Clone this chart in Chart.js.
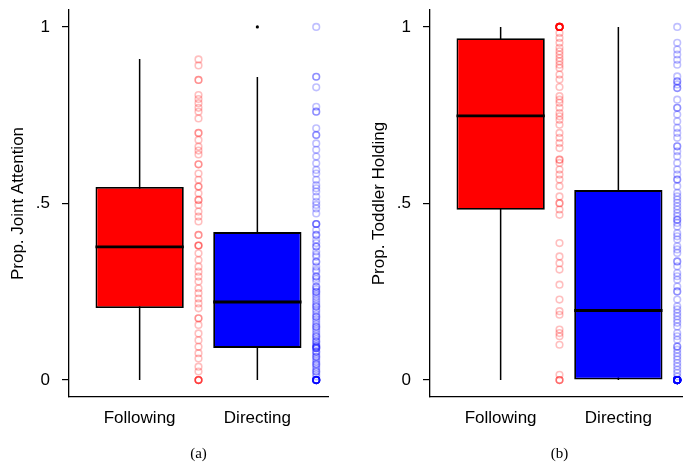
<!DOCTYPE html>
<html lang="en">
<head>
  <meta charset="UTF-8">
  <title>Joint attention and toddler holding</title>
  <script src="https://cdn.jsdelivr.net/npm/chart.js"></script>
  <style>
    html, body { margin: 0; padding: 0; background: #fff; }
    body { width: 683px; height: 464px; overflow: hidden; position: relative; }
    .panel { position: absolute; top: 0; width: 340px; height: 464px; }
    #panelA { left: 0; }
    #panelB { left: 361px; }
  </style>
</head>
<body>
  <div class="panel" id="panelA"><canvas id="chartA" width="340" height="464"></canvas></div>
  <div class="panel" id="panelB"><canvas id="chartB" width="340" height="464"></canvas></div>

  <script>
    // categories and axis ticks
    var categories = ['Following', 'Directing'];
    var yTickValues = [0, 0.5, 1];
    var yTickLabels = ['0', '.5', '1'];

    // (a) Prop. Joint Attention - box stats per category
    var jaLow = [0, 0];
    var jaQ1 = [0.204, 0.091];
    var jaMedian = [0.377, 0.221];
    var jaQ3 = [0.547, 0.419];
    var jaHigh = [0.909, 0.858];
    var jaOutliers = [[], [1.0]];

    // (a) raw values per category
    var jaFollowing = [0.908, 0.891, 0.85, 0.85, 0.807, 0.796, 0.784, 0.771, 0.76, 0.741,
      0.70, 0.70, 0.68, 0.661, 0.65, 0.639, 0.611, 0.611, 0.585, 0.567,
      0.548, 0.548, 0.529, 0.51, 0.51, 0.496, 0.477, 0.463, 0.449, 0.411,
      0.411, 0.381, 0.381, 0.381, 0.359, 0.34, 0.321, 0.307, 0.293, 0.279,
      0.26, 0.246, 0.231, 0.217, 0.203, 0.175, 0.175, 0.156, 0.132, 0.113,
      0.094, 0.076, 0.061, 0.038, 0.024, 0, 0, 0, 0, 0];
    var jaDirecting = [1.0, 0.859, 0.859, 0.829, 0.774, 0.76, 0.76, 0.713, 0.694, 0.694,
      0.67, 0.652, 0.633, 0.614, 0.595, 0.585, 0.567, 0.552, 0.543, 0.534,
      0.519, 0.505, 0.496, 0.486, 0.472, 0.442, 0.442, 0.442,
      0.425, 0.411, 0.411, 0.397, 0.388, 0.378, 0.378, 0.364, 0.355, 0.349,
      0.335, 0.335, 0.321, 0.312, 0.307, 0.293, 0.293, 0.286, 0.279, 0.264,
      0.264, 0.257, 0.25, 0.25, 0.243, 0.236, 0.229, 0.222,
      0.215, 0.208, 0.208, 0.2, 0.194, 0.186, 0.179, 0.179, 0.172, 0.165,
      0.158, 0.151, 0.151, 0.144, 0.137, 0.13, 0.123, 0.123, 0.116, 0.109,
      0.109, 0.102, 0.097, 0.094, 0.094, 0.091, 0.09, 0.09,
      0.08, 0.08, 0.073, 0.066, 0.066, 0.059, 0.052, 0.045, 0.045, 0.038,
      0.031, 0.024, 0.024, 0.017, 0.01, 0, 0, 0, 0, 0, 0, 0, 0, 0, 0, 0, 0, 0];

    // (b) Prop. Toddler Holding - box stats per category
    var thLow = [0, 0];
    var thQ1 = [0.482, 0];
    var thMedian = [0.748, 0.197];
    var thQ3 = [0.968, 0.538];
    var thHigh = [1, 1];
    var thOutliers = [[], []];

    // (b) raw values per category
    var thFollowing = [1, 1, 1, 1, 1, 1, 1, 1, 1, 1, 1, 1, 1, 1, 1,
      0.983, 0.969, 0.955, 0.941, 0.931, 0.922, 0.912, 0.903, 0.893, 0.884,
      0.865, 0.851, 0.83, 0.804, 0.794, 0.785, 0.771, 0.756, 0.747, 0.737,
      0.723, 0.70, 0.686, 0.671, 0.657, 0.624, 0.624, 0.615, 0.596, 0.582,
      0.568, 0.549, 0.52, 0.501, 0.501, 0.483, 0.468, 0.388, 0.35, 0.331,
      0.313, 0.27, 0.228, 0.195, 0.185, 0.143, 0.133, 0.124, 0.10, 0.015,
      0, 0, 0];
    var thDirecting = [1.0, 0.955, 0.936, 0.922, 0.907, 0.893, 0.86, 0.846, 0.846, 0.837,
      0.827, 0.827, 0.794, 0.771, 0.771, 0.752, 0.733, 0.714, 0.70, 0.686,
      0.662, 0.662, 0.648, 0.634, 0.615, 0.596, 0.582, 0.568, 0.568, 0.549,
      0.53, 0.52, 0.511, 0.502, 0.492, 0.483, 0.473, 0.464, 0.454, 0.454,
      0.445, 0.435, 0.416, 0.407, 0.398, 0.379, 0.37, 0.36, 0.336, 0.336,
      0.322, 0.303, 0.294, 0.284, 0.265, 0.251, 0.251, 0.228, 0.209, 0.2,
      0.19, 0.181, 0.171, 0.162, 0.152, 0.133, 0.124, 0.114, 0.095, 0.095,
      0.086, 0.076, 0.067, 0.058, 0.048, 0.039, 0.029, 0.02, 0.01,
      0, 0, 0, 0, 0, 0, 0, 0, 0, 0, 0, 0, 0, 0, 0, 0, 0, 0, 0, 0,
      0, 0, 0, 0, 0, 0, 0, 0, 0, 0, 0, 0, 0, 0, 0, 0, 0, 0, 0, 0, 0];

    var boxColors = ['#ff0000', '#0000ff'];
    var pointColors = ['rgba(255,0,0,0.25)', 'rgba(0,0,255,0.25)'];
    var BOX_PCT = 0.75;          // box width as share of one category step
    var BOX_HALF = BOX_PCT / 2;  // same, in x units, for the median bar
    var FONT = 'Liberation Sans';

    function makePanel(canvasId, low, q1, med, q3, high, outliers, rawSets, yTitle, caption) {
      var datasets = [];

      // whiskers (drawn under the boxes)
      categories.forEach(function(c, i) {
        datasets.push({
          type: 'line',
          data: [{ x: i + 1, y: low[i] }, { x: i + 1, y: high[i] }],
          borderColor: '#000', borderWidth: 1.5, pointRadius: 0, order: 5
        });
      });

      // boxes: floating bars from Q1 to Q3
      datasets.push({
        type: 'bar',
        data: categories.map(function(c, i) { return { x: i + 1, y: [q1[i], q3[i]] }; }),
        backgroundColor: boxColors,
        borderColor: '#000',
        borderWidth: 1.8,
        borderSkipped: false,
        categoryPercentage: BOX_PCT,
        barPercentage: 1,
        order: 4
      });

      // medians
      categories.forEach(function(c, i) {
        datasets.push({
          type: 'line',
          data: [{ x: i + 1 - BOX_HALF, y: med[i] }, { x: i + 1 + BOX_HALF, y: med[i] }],
          borderColor: '#000', borderWidth: 2.8, pointRadius: 0, order: 3
        });
      });

      // outliers
      categories.forEach(function(c, i) {
        datasets.push({
          type: 'scatter',
          data: outliers[i].map(function(v) { return { x: i + 1, y: v }; }),
          backgroundColor: '#000', borderColor: '#000', pointRadius: 1.6, borderWidth: 0, order: 2
        });
      });

      // raw values strip next to each box
      categories.forEach(function(c, i) {
        datasets.push({
          type: 'scatter',
          data: rawSets[i].map(function(v) { return { x: i + 1.5, y: v }; }),
          backgroundColor: 'rgba(0,0,0,0)',
          borderColor: pointColors[i],
          pointRadius: 3.3,
          borderWidth: 1.6,
          order: 1
        });
      });

      return new Chart(document.getElementById(canvasId), {
        type: 'scatter',
        data: { datasets: datasets },
        options: {
          responsive: false,
          animation: false,
          events: [],
          layout: { padding: { top: 10, right: 12, bottom: 0, left: 0 } },
          plugins: {
            legend: { display: false },
            tooltip: { enabled: false },
            title: {
              display: true,
              text: caption,
              position: 'bottom',
              fullSize: false,
              color: '#000',
              font: { family: 'Liberation Serif', size: 15, weight: 'normal' },
              padding: { top: 16.6, bottom: 1 }
            }
          },
          scales: {
            x: {
              type: 'linear',
              min: 0.4,
              max: 2.6,
              offset: false,
              grid: { display: false, drawTicks: false, offset: false },
              border: { display: true, color: '#000', width: 1.3 },
              afterBuildTicks: function(scale) {
                scale.ticks = categories.map(function(c, i) { return { value: i + 1 }; });
              },
              afterFit: function(scale) {
                scale.height = 31.4;
                scale.paddingLeft = 0;
                scale.paddingRight = 0;
              },
              ticks: {
                padding: 11,
                maxRotation: 0,
                autoSkip: false,
                color: '#000',
                font: { family: FONT, size: 17 },
                callback: function(v, i) { return categories[i]; }
              }
            },
            y: {
              min: -0.048,
              max: 1.048,
              grid: { display: true, drawOnChartArea: false, drawTicks: true, tickLength: 7, color: '#000', lineWidth: 1.2 },
              border: { display: true, color: '#000', width: 1.3 },
              afterBuildTicks: function(scale) {
                scale.ticks = yTickValues.map(function(v) { return { value: v }; });
              },
              afterFit: function(scale) {
                scale.width = 69;
                scale.paddingTop = 0;
                scale.paddingBottom = 0;
              },
              ticks: {
                padding: 12,
                color: '#000',
                font: { family: FONT, size: 17 },
                callback: function(v) { return yTickLabels[yTickValues.indexOf(v)]; }
              },
              title: {
                display: true,
                text: yTitle,
                color: '#000',
                font: { family: FONT, size: 17 },
                padding: { top: 8, bottom: 0 }
              }
            }
          }
        }
      });
    }

    makePanel('chartA', jaLow, jaQ1, jaMedian, jaQ3, jaHigh, jaOutliers,
      [jaFollowing, jaDirecting], 'Prop. Joint Attention', '(a)');
    makePanel('chartB', thLow, thQ1, thMedian, thQ3, thHigh, thOutliers,
      [thFollowing, thDirecting], 'Prop. Toddler Holding', '(b)');
  </script>
</body>
</html>
